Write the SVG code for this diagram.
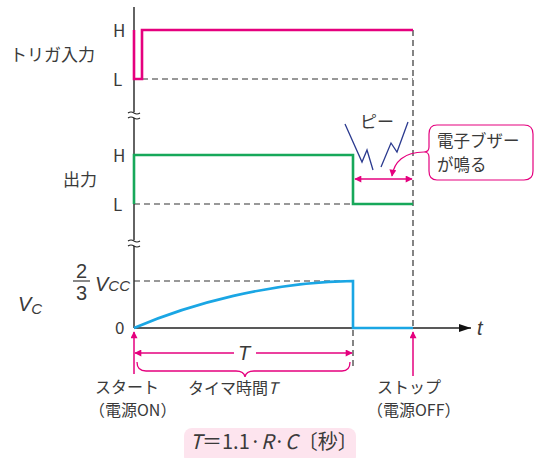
<svg xmlns="http://www.w3.org/2000/svg" width="540" height="458" viewBox="0 0 540 458">
<style>
text{font-family:"Noto Sans CJK JP","Noto Sans",sans-serif;fill:#3a3a3a;font-size:17px}
.it{font-style:italic}
.axis{stroke:#222;stroke-width:1.4;fill:none}
.dash{stroke:#333;stroke-width:1.2;stroke-dasharray:6 4;fill:none}
.pk{stroke:#e5007e;fill:none}
.brk{stroke:#222;stroke-width:1.1;fill:none}
text.lbl{font-size:16px}
text.num{font-family:"Liberation Sans",Arial,sans-serif;font-size:20px}
text.var{font-family:"Liberation Sans",Arial,sans-serif;font-style:italic;font-size:20px}
tspan.sub{font-size:15px}
text.call{font-size:16.5px}
text.form{font-size:20px}
</style>
<defs>
<marker id="pa" viewBox="0 0 10 10" refX="9" refY="5" markerWidth="9" markerHeight="7" orient="auto-start-reverse" markerUnits="userSpaceOnUse"><path d="M0,0 L10,5 L0,10 z" fill="#e5007e"/></marker>
<marker id="ka" viewBox="0 0 12 8" refX="12" refY="4" markerWidth="12" markerHeight="8" orient="auto" markerUnits="userSpaceOnUse"><path d="M0,0 L12,4 L0,8 z" fill="#111"/></marker>
</defs>

<g id="axes">
<line class="axis" x1="134" y1="7" x2="134" y2="328"/>
<line class="axis" x1="134" y1="328" x2="471" y2="328" marker-end="url(#ka)"/>
<rect x="128" y="112" width="12" height="6" fill="#fff"/>
<path class="brk" d="M128,113 q3,-2 6,0 t6,0 M128,118 q3,-2 6,0 t6,0"/>
<rect x="128" y="240" width="12" height="6" fill="#fff"/>
<path class="brk" d="M128,241 q3,-2 6,0 t6,0 M128,246 q3,-2 6,0 t6,0"/>
</g>

<g id="guides">
<line class="dash" x1="142" y1="79" x2="413" y2="79"/>
<line class="dash" x1="413" y1="30" x2="413" y2="328"/>
<line class="dash" x1="134" y1="204" x2="353" y2="204"/>
<line class="dash" x1="134" y1="281" x2="353" y2="281"/>
<line class="dash" x1="353" y1="330" x2="353" y2="370"/>
</g>

<g id="trigger">
<path d="M134,30 V79 H142 V30 H413" stroke="#e5007e" stroke-width="2.6" fill="none"/>
<text x="10" y="61">トリガ入力</text>
<text x="113" y="37">H</text>
<text x="113" y="86">L</text>
</g>

<g id="output">
<path d="M134,204 V155 H353 V204 H413" stroke="#17a85a" stroke-width="2.6" fill="none"/>
<text x="63" y="186">出力</text>
<text x="113" y="162">H</text>
<text x="113" y="211">L</text>
</g>

<g id="vc">
<path d="M134,328 C190,304 270,282 353,281 V328 H413" stroke="#1aa6e4" stroke-width="2.6" fill="none"/>
<text x="18" y="311" class="var">V<tspan class="sub" dy="3">C</tspan></text>
<text x="76" y="278" class="num">2</text>
<line x1="73" y1="281" x2="90" y2="281" stroke="#3a3a3a" stroke-width="1.2"/>
<text x="76" y="300" class="num">3</text>
<text x="95" y="291" class="var">V<tspan class="sub">CC</tspan></text>
<text x="115" y="334">0</text>
<text x="477" y="335" class="var">t</text>
</g>

<g id="buzzer">
<path d="M345,124 L362,162 L367,150 L373,170 M381,167 L391,143 L397,152 L408,122" stroke="#2b3a8f" stroke-width="1.3" fill="none"/>
<text x="360" y="128">ピー</text>
<path d="M437,125 H524 Q533,125 533,134 V171 Q533,180 524,180 H437 Q429,180 429,171 V157 Q429,152 424,152 Q429,152 429,147 V134 Q429,125 437,125 Z" fill="#fff" stroke="#e5007e" stroke-width="1.2"/>
<text x="437" y="147" class="call">電子ブザー</text>
<text x="437" y="171" class="call">が鳴る</text>
<path class="pk" stroke-width="1.2" d="M424,152 C404,152 394,162 392,176" marker-end="url(#pa)"/>
<line class="pk" stroke-width="1.5" x1="355" y1="179" x2="412" y2="179" marker-start="url(#pa)" marker-end="url(#pa)"/>
</g>

<g id="timing">
<line class="pk" stroke-width="1.5" x1="134" y1="374" x2="134" y2="332" marker-end="url(#pa)"/>
<line class="pk" stroke-width="1.5" x1="413" y1="376" x2="413" y2="332" marker-end="url(#pa)"/>
<line class="pk" stroke-width="1.5" x1="135" y1="353" x2="234" y2="353" marker-start="url(#pa)"/>
<line class="pk" stroke-width="1.5" x1="256" y1="353" x2="352" y2="353" marker-end="url(#pa)"/>
<text x="238" y="360" class="var">T</text>
<path class="pk" stroke-width="1.3" d="M137,362 Q137,371 146,371 H236 Q244,371 245,377 Q246,371 254,371 H342 Q350,371 350,362"/>
<text x="95" y="393" class="lbl">スタート</text>
<text x="89" y="416" class="lbl">（電源ON）</text>
<text x="188" y="394" class="lbl">タイマ時間<tspan class="it">T</tspan></text>
<text x="377" y="393" class="lbl">ストップ</text>
<text x="367" y="416" class="lbl">（電源OFF）</text>
</g>

<g id="formula">
<rect x="184" y="428" width="172" height="36" rx="8" fill="#fde4ee"/>
<text x="190" y="449" class="form"><tspan class="it">T</tspan>＝1.1·<tspan class="it">R</tspan>·<tspan class="it">C</tspan>〔秒〕</text>
</g>
</svg>
